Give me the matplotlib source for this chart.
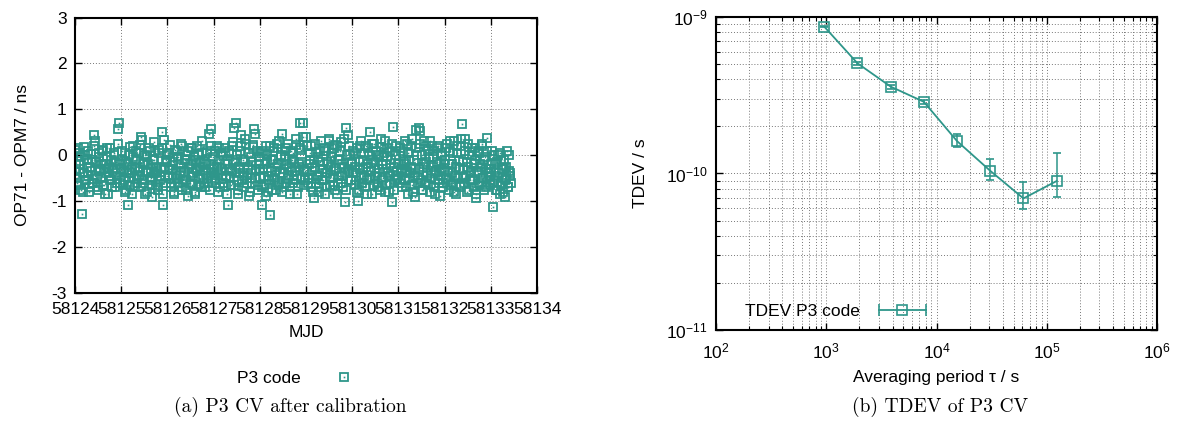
import numpy as np
import matplotlib
matplotlib.use("Agg")
import matplotlib.pyplot as plt
from matplotlib.lines import Line2D
from matplotlib.legend_handler import HandlerLine2D
from matplotlib.ticker import LogLocator, LogFormatterMathtext, NullFormatter

plt.rcParams['font.family'] = ['Liberation Sans', 'DejaVu Sans']
plt.rcParams['axes.unicode_minus'] = False

# ---- data: P3 common-view difference OP71 - OPM7 (ns), two interleaved tracks, 0.025 d apart ----
mjd_start = 58124.0
mjd_step = 0.025
cv_day0 = [0.12, -0.35, -0.6, 0.05, -0.2, -0.75, -1.29, -0.4, 0.18, -0.55, -0.1, -0.45, -0.8, -0.25,
           0.02, -0.6, 0.44, 0.3, -0.15, -0.5, -0.7, -0.05, -0.35, 0.1, -0.65, -0.3, -0.85, -0.2,
           0.15, -0.45, -0.55, -0.1, -0.7, -0.3, 0.05, -0.4, -0.6, 0.58, 0.70, -0.2]
cv_day1 = [-0.3, 0.1, -0.55, -0.8, -0.15, -0.4, -1.09, 0.0, -0.65, -0.25, 0.2, -0.5, -0.7, -0.1,
           -0.45, 0.05, -0.35, 0.40, 0.33, -0.6, -0.2, -0.85, -0.05, -0.4, 0.15, -0.55, -0.3, -0.92,
           -0.1, 0.08, -0.65, -0.35, -0.75, 0.12, -0.45, 0.50, -1.09, 0.34, -0.25, -0.6]
cv_day2 = [-0.15, -0.5, 0.22, -0.7, -0.3, -0.05, -0.85, -0.4, 0.1, -0.6, -0.2, -0.45, 0.25, -0.75,
           -0.35, -0.1, -0.55, 0.0, -0.9, -0.25, 0.15, -0.65, -0.4, -0.05, -0.8, -0.3, 0.2, -0.5,
           -0.15, -0.7, 0.05, -0.35, -0.6, -0.2, 0.1, -0.45, 0.47, -0.75, 0.58, -0.3]
cv_day3 = [-0.4, 0.1, -0.6, -0.25, -0.8, 0.15, -0.35, -0.5, 0.0, -0.7, -0.2, -0.45, -1.09, 0.05,
           -0.3, -0.65, 0.2, -0.1, 0.60, 0.70, -0.55, -0.85, -0.25, 0.1, 0.43, -0.4, -0.7, -0.15,
           0.25, -0.5, -0.3, -0.9, -0.05, -0.6, 0.18, 0.58, 0.47, -0.35, -0.75, -0.2]
cv_day4 = [-0.5, 0.05, -1.09, -0.3, -0.65, 0.2, -0.15, -0.8, -0.45, -1.31, -0.1, 0.1, -0.55, -0.35,
           -0.75, 0.25, -0.2, -0.6, 0.0, 0.47, -0.4, -0.7, -0.05, 0.15, -0.5, -0.25, -0.85, 0.1,
           -0.35, -0.6, -0.15, 0.22, -0.45, -0.7, -0.2, 0.69, 0.12, 0.69, -0.3, -0.55]
cv_day5 = [0.4, -0.35, -0.6, -0.1, 0.2, -0.5, -0.8, -0.93, -0.25, 0.05, -0.45, -0.7, -0.15, 0.3,
           -0.55, -0.3, -0.85, 0.1, -0.4, -0.2, 0.35, -0.65, -0.05, -0.5, 0.15, -0.75, -0.3, 0.2,
           -0.6, -0.1, 0.28, -0.45, -0.7, -0.25, -1.02, 0.60, 0.43, -0.35, 0.0, -0.55]
cv_day6 = [-0.2, 0.1, -0.65, -0.4, -0.8, -1.0, -0.15, 0.2, -0.5, -0.3, 0.05, -0.7, -0.25, -0.55,
           0.15, 0.51, -0.35, -0.85, -0.1, 0.25, -0.45, -0.6, 0.0, -0.3, -0.75, 0.18, -0.2, -0.5,
           0.3, -0.65, -0.05, -0.4, -0.8, 0.1, -1.02, 0.62, -0.25, -0.55, 0.2, -0.35]
cv_day7 = [-0.45, 0.15, -0.3, -0.7, 0.05, -0.2, -0.55, 0.25, -0.85, -0.1, -0.4, 0.2, -0.65, -0.3,
           -0.92, 0.55, 0.0, -0.5, 0.60, 0.52, -0.75, -0.25, 0.3, -0.6, -0.15, -0.45, 0.1, -0.8,
           -0.35, 0.2, -0.05, -0.7, -0.4, 0.15, -0.55, -0.2, -0.9, 0.05, -0.3, -0.6]
cv_day8 = [-0.1, -0.5, 0.25, -0.35, -0.75, 0.1, -0.2, -0.6, 0.3, -0.45, -0.85, 0.05, -0.3, -0.65,
           0.2, 0.67, -0.15, -0.5, 0.35, -0.8, -0.25, 0.0, -0.55, -0.4, 0.15, -0.7, -0.1, -0.94,
           -0.35, 0.1, -0.6, -0.2, 0.25, -0.5, -0.75, -0.05, -0.3, 0.37, -0.45, -0.65]
cv_day9 = [-0.3, 0.1, -1.13, -0.55, -0.2, -0.75, 0.0, -0.4, -0.85, -0.1, -0.6, -0.3, -0.92, -0.5,
           0.1, -0.7, -0.35, -0.45]

cvb_day0 = [-0.2, -0.5, 0.15, -0.65, -0.3, -0.05, -0.8, -0.4, 0.0, -0.55, -0.25, 0.1, -0.7, -0.35,
            -0.1, -0.6, 0.2, -0.45, -0.15, -0.75, 0.05, -0.3, -0.5, -0.2, 0.12, -0.65, -0.4, -0.05,
            -0.85, -0.25, 0.15, -0.55, -0.35, 0.0, -0.7, -0.15, -0.45, 0.25, -0.6, -0.3]
cvb_day1 = [-0.1, -0.65, -0.35, 0.05, -0.75, -0.2, -0.5, 0.18, -0.4, -0.85, -0.05, -0.3, 0.1, -0.6,
            -0.25, -0.45, 0.22, -0.7, -0.15, -0.55, 0.0, -0.35, -0.8, -0.2, 0.1, -0.5, -0.65, -0.1,
            0.28, -0.4, -0.25, -0.7, 0.05, -0.55, -0.3, 0.15, -0.85, -0.45, -0.1, 0.0]
cvb_day2 = [-0.45, 0.05, -0.3, -0.6, -0.15, -0.8, 0.12, -0.35, -0.5, -0.05, -0.7, -0.25, 0.2, -0.55,
            -0.4, -0.1, -0.75, 0.08, -0.3, -0.6, -0.2, 0.15, -0.45, -0.85, -0.1, -0.35, 0.0, -0.65,
            -0.25, 0.3, -0.5, -0.15, -0.7, -0.4, 0.05, -0.6, -0.2, 0.2, -0.5, -0.05]
cvb_day3 = [-0.25, -0.55, 0.2, -0.4, -0.1, -0.7, 0.05, -0.3, -0.6, 0.15, -0.45, -0.85, -0.2, 0.1,
            -0.5, -0.35, 0.28, -0.65, -0.15, -0.4, 0.0, -0.75, -0.3, 0.2, -0.55, -0.1, -0.45, 0.35,
            -0.6, -0.25, 0.05, -0.8, -0.4, -0.15, 0.22, -0.5, -0.3, 0.1, -0.65, -0.05]
cvb_day4 = [-0.3, -0.7, 0.1, -0.45, -0.2, -0.9, 0.0, -0.55, 0.2, -0.35, -0.75, -0.1, 0.15, -0.5,
            -0.25, -0.65, 0.3, -0.4, -0.05, -0.8, -0.3, 0.1, -0.6, -0.2, 0.25, -0.45, -0.7, -0.1,
            0.05, -0.55, -0.35, 0.35, -0.85, -0.25, 0.15, -0.5, -0.15, 0.4, -0.65, -0.35]
cvb_day5 = [0.2, -0.5, -0.2, 0.05, -0.7, -0.35, -0.1, 0.25, -0.6, -0.45, -0.05, -0.8, 0.1, -0.3,
            -0.55, 0.15, -0.4, -0.7, -0.15, 0.3, -0.5, -0.25, 0.05, -0.65, -0.35, 0.22, -0.85, -0.1,
            -0.45, 0.1, -0.6, -0.2, 0.35, -0.4, -0.75, 0.0, -0.3, 0.2, -0.55, -0.15]
cvb_day6 = [-0.4, 0.05, -0.25, -0.55, 0.15, -0.75, -0.3, 0.3, -0.6, -0.1, -0.45, 0.2, -0.85, -0.2,
            0.0, -0.5, -0.35, 0.25, -0.65, -0.15, 0.1, -0.4, -0.7, -0.05, 0.35, -0.55, -0.3, 0.05,
            -0.8, -0.2, 0.15, -0.45, -0.6, -0.1, 0.25, -0.35, -0.75, 0.0, -0.5, -0.2]
cvb_day7 = [-0.2, -0.6, 0.1, -0.4, -0.15, 0.3, -0.7, -0.35, 0.05, -0.5, -0.25, 0.35, -0.8, -0.1,
            -0.45, 0.15, -0.6, -0.3, 0.25, -0.55, 0.0, -0.75, -0.2, 0.2, -0.4, -0.65, -0.05, 0.3,
            -0.5, -0.25, 0.1, -0.85, -0.35, -0.15, 0.2, -0.6, -0.45, 0.0, -0.7, -0.2]
cvb_day8 = [-0.35, 0.15, -0.55, -0.2, 0.3, -0.65, -0.4, 0.05, -0.8, -0.25, 0.2, -0.5, -0.1, -0.7,
            0.35, -0.3, -0.6, 0.1, -0.45, -0.15, 0.25, -0.75, -0.35, 0.0, -0.55, -0.2, 0.15, -0.85,
            -0.4, 0.05, -0.65, -0.25, 0.2, -0.5, -0.1, -0.7, 0.1, -0.4, -0.3, -0.55]
cvb_day9 = [-0.2, -0.6, 0.0, -0.45, -0.75, -0.15, -0.5, 0.05, -0.65, -0.3, -0.8, -0.1, -0.55, -0.25,
            -0.7, 0.0, -0.4, -0.6]

cv_a = np.array(cv_day0 + cv_day1 + cv_day2 + cv_day3 + cv_day4 + cv_day5 + cv_day6
                + cv_day7 + cv_day8 + cv_day9)
cv_b = np.array(cvb_day0 + cvb_day1 + cvb_day2 + cvb_day3 + cvb_day4 + cvb_day5 + cvb_day6
                + cvb_day7 + cvb_day8 + cvb_day9)
mjd_a = mjd_start + mjd_step * np.arange(len(cv_a))
mjd_b = mjd_start + mjd_step / 2 + mjd_step * np.arange(len(cv_b))
mjd = np.concatenate([mjd_a, mjd_b])
cv_ns = np.concatenate([cv_a, cv_b])

# ---- data: TDEV of P3 CV ----
tau = [960, 1920, 3840, 7680, 15360, 30720, 61440, 122880]
tdev = [8.67e-10, 5.06e-10, 3.59e-10, 2.87e-10, 1.61e-10, 1.04e-10, 6.93e-11, 8.95e-11]
tdev_err_lo = [0.10e-10, 0.12e-10, 0.10e-10, 0.09e-10, 0.13e-10, 0.13e-10, 0.10e-10, 0.185e-10]
tdev_err_hi = [0.10e-10, 0.12e-10, 0.10e-10, 0.09e-10, 0.17e-10, 0.19e-10, 0.19e-10, 0.465e-10]

teal = '#2e968a'
grid_kw = dict(color='#777777', linestyle=(0, (1, 2)), linewidth=0.7)

fig = plt.figure(figsize=(11.78, 4.26), dpi=100)

# ---------------- left panel ----------------
ax1 = fig.add_axes([0.0637, 0.3129, 0.3922, 0.646])
ax1.plot(mjd, cv_ns, ls='none', marker='s', ms=5.6, mfc='none', mec=teal, mew=1.3)
ax1.plot(mjd, cv_ns, ls='none', marker='s', ms=1.2, mfc=teal, mec=teal, mew=0)
ax1.set_xlim(58124, 58134)
ax1.set_ylim(-3, 3)
ax1.set_xticks(np.arange(58124, 58135, 1))
ax1.set_yticks(np.arange(-3, 4, 1))
ax1.get_xaxis().get_major_formatter().set_useOffset(False)
ax1.grid(True, **grid_kw)
ax1.tick_params(direction='in', top=True, right=True, labelsize=12.5, length=5, width=1)
ax1.tick_params(axis='x', pad=7)
ax1.tick_params(axis='y', pad=6)
ax1.set_xlabel('MJD', fontsize=12.5)
ax1.set_ylabel('OP71 - OPM7 / ns', fontsize=12.5)
ax1.xaxis.set_label_coords(0.5, -0.118)
ax1.yaxis.set_label_coords(-0.097, 0.5)
for s in ax1.spines.values():
    s.set_linewidth(1.5)

h_box = Line2D([], [], ls='none', marker='s', ms=5.6, mfc='none', mec=teal, mew=1.3)
h_dot = Line2D([], [], ls='none', marker='s', ms=1.2, mfc=teal, mec=teal, mew=0)
ax1.legend([(h_box, h_dot)], ['P3 code'], loc='center', bbox_to_anchor=(0.495, -0.31),
           frameon=False, markerfirst=False, fontsize=12.5, handlelength=3.0, handletextpad=1.0)

fig.text(0.246, 0.045, '(a) P3 CV after calibration', family='cmr10', fontsize=14,
         ha='center', va='center')

# ---------------- right panel ----------------
ax2 = fig.add_axes([0.6078, 0.2254, 0.3744, 0.7347])
ax2.errorbar(tau, tdev, yerr=[tdev_err_lo, tdev_err_hi], color=teal, lw=1.3,
             marker='s', ms=6.5, mfc='none', mec=teal, mew=1.2, capsize=3, elinewidth=1.1)
ax2.set_xscale('log')
ax2.set_yscale('log')
ax2.set_xlim(1e2, 1e6)
ax2.set_ylim(1e-11, 1e-9)
for axis in (ax2.xaxis, ax2.yaxis):
    axis.set_major_locator(LogLocator(base=10, numticks=10))
    axis.set_minor_locator(LogLocator(base=10, subs=np.arange(2, 10), numticks=50))
    axis.set_major_formatter(LogFormatterMathtext())
    axis.set_minor_formatter(NullFormatter())
ax2.grid(True, which='both', **grid_kw)
ax2.tick_params(which='both', direction='in', top=True, right=True, labelsize=12.5)
ax2.tick_params(which='major', length=5, width=1)
ax2.tick_params(which='minor', length=3, width=0.8)
ax2.tick_params(axis='x', which='major', pad=8)
ax2.tick_params(axis='y', which='major', pad=6)
ax2.set_xlabel('Averaging period τ / s', fontsize=12.5)
ax2.set_ylabel('TDEV / s', fontsize=12.5)
ax2.xaxis.set_label_coords(0.5, -0.128)
ax2.yaxis.set_label_coords(-0.154, 0.5)
for s in ax2.spines.values():
    s.set_linewidth(1.5)

h_cap = Line2D([], [], color=teal, lw=1.3, marker='|', ms=8, mew=1.2)
h_sq = Line2D([], [], ls='none', marker='s', ms=6.5, mfc='none', mec=teal, mew=1.2)
ax2.legend([(h_cap, h_sq)], ['TDEV P3 code'], loc='lower left', bbox_to_anchor=(0.03, -0.015),
           frameon=False, markerfirst=False, fontsize=12.5, handlelength=3.3, handletextpad=0.8,
           handler_map={h_cap: HandlerLine2D(numpoints=2), h_sq: HandlerLine2D(numpoints=1)})

fig.text(0.798, 0.045, '(b) TDEV of P3 CV', family='cmr10', fontsize=14,
         ha='center', va='center')

fig.savefig('out.png', dpi=100)
